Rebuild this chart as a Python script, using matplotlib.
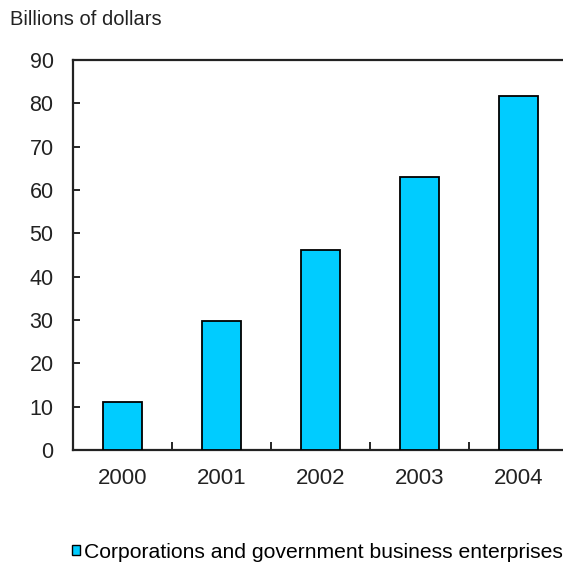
import matplotlib
matplotlib.use("Agg")
import matplotlib.pyplot as plt
from matplotlib.patches import Patch

plt.rcParams['font.family'] = ['Liberation Sans', 'DejaVu Sans']

years = ["2000", "2001", "2002", "2003", "2004"]
values = [11.0, 29.7, 46.1, 62.9, 81.6]
series_name = "Corporations and government business enterprises"
y_ticks = [0, 10, 20, 30, 40, 50, 60, 70, 80, 90]

W, H = 563, 562
fig = plt.figure(figsize=(W / 100, H / 100), dpi=100)
ax = fig.add_axes([73 / W, 112 / H, 495 / W, 390 / H])

bar_color = "#00CCFF"
x = range(len(years))
ax.bar(x, values, width=0.4, color=bar_color, edgecolor="black", linewidth=1.3, zorder=3)

ax.set_xlim(-0.5, len(years) - 0.5)
ax.set_ylim(0, 90)
ax.set_yticks(y_ticks)
ax.set_yticklabels([str(v) for v in y_ticks], fontsize=15.5, color="#222222")
ax.set_xticks(list(x))
ax.set_xticklabels(years, fontsize=16, color="#222222")
ax.set_xticks([i + 0.5 for i in range(len(years) - 1)], minor=True)

ax.tick_params(axis="y", direction="in", length=5, width=1.2, pad=14)
ax.tick_params(axis="x", which="major", length=0, pad=13)
ax.tick_params(axis="x", which="minor", direction="in", length=6, width=1.2)

for side in ("left", "bottom", "top"):
    ax.spines[side].set_linewidth(1.6)
    ax.spines[side].set_color("#222222")
ax.spines["right"].set_visible(False)

fig.text(10 / W, 1 - 10 / H, "Billions of dollars", fontsize=14.5,
         ha="left", va="top", color="#222222")

handle = Patch(facecolor=bar_color, edgecolor="black", linewidth=1.0)
fig.legend([handle], [series_name], loc="center left",
           bbox_to_anchor=(72 / W, 1 - 552 / H), frameon=False,
           fontsize=15.2, handlelength=0.4, handleheight=0.4,
           handletextpad=0.15, borderaxespad=0, borderpad=0)

fig.savefig("out.png", dpi=100)
